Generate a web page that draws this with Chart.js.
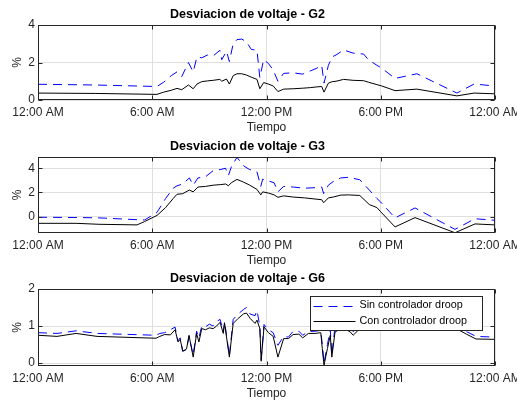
<!DOCTYPE html>
<html>
<head>
<meta charset="utf-8">
<script src="https://cdn.jsdelivr.net/npm/chart.js@4.4.0/dist/chart.umd.min.js"></script>
<style>
html, body { margin: 0; padding: 0; background: #fff; }
#wrap { position: relative; width: 517px; height: 403px; overflow: hidden; }
#wrap canvas { position: absolute; left: 0; }
</style>
</head>
<body>
<div id="wrap">
  <canvas id="g2Chart" width="560" height="135" style="top:0px"></canvas>
  <canvas id="g3Chart" width="560" height="134" style="top:134px"></canvas>
  <canvas id="g6Chart" width="560" height="133" style="top:268px"></canvas>
</div>
<script>
// tick labels / series names
const xTickHours = [0, 6, 12, 18, 24];
const xTickLabels = ['12:00 AM', '6:00 AM', '12:00 PM', '6:00 PM', '12:00 AM'];
const seriesNames = ['Sin controlador droop', 'Con controlador droop'];

// G2 (hours of day, % deviation)
const g2Hours = [0, 3, 6.25, 6.6, 7.0, 7.3, 7.55, 7.9, 8.15, 8.35, 8.6, 8.9, 9.2, 9.55, 9.65, 9.9, 10.05, 10.25, 10.45, 10.7,
  10.95, 11.2, 11.5, 11.65, 11.85, 12.1, 12.35, 12.6, 12.9, 13.4, 13.9, 14.3, 14.65, 14.9, 15.02, 15.25, 15.45, 15.65, 16.05,
  16.55, 17.1, 17.35, 17.8, 18.05, 18.75, 19.9, 22.0, 22.9, 24];
const g2Sin = [0.84, 0.8, 0.72, 0.95, 1.3, 1.5, 1.25, 2.0, 1.5, 2.3, 2.25, 2.4, 2.35, 2.65, 2.15, 2.6, 2.05, 3.0, 3.22, 3.25,
  3.1, 2.7, 2.65, 1.2, 2.15, 1.95, 1.6, 1.0, 1.42, 1.45, 1.38, 1.55, 1.7, 1.85, 0.9, 1.85, 2.3, 2.4, 2.67,
  2.5, 2.45, 2.15, 1.85, 1.7, 1.15, 1.4, 0.37, 0.85, 0.75];
const g2Con = [0.37, 0.35, 0.3, 0.42, 0.52, 0.62, 0.55, 0.8, 0.6, 0.85, 0.98, 1.02, 1.05, 1.1, 1.0, 1.12, 0.85, 1.3, 1.4, 1.4,
  1.33, 1.22, 1.1, 0.6, 0.93, 0.85, 0.75, 0.45, 0.58, 0.6, 0.63, 0.66, 0.7, 0.72, 0.42, 0.9, 0.98, 1.0, 1.1,
  1.05, 1.03, 0.95, 0.82, 0.75, 0.5, 0.58, 0.22, 0.37, 0.33];

// G3
const g3Hours = [0, 2, 3.2, 5.2, 5.6, 6.25, 6.7, 7.1, 7.3, 7.6, 7.95, 8.15, 8.4, 8.8, 9.2, 9.6, 9.85, 10.0, 10.15, 10.45,
  10.8, 11.1, 11.5, 11.7, 11.8, 12.1, 12.4, 12.6, 12.9, 13.4, 14.0, 14.6, 14.9, 15.0, 15.25, 15.5, 15.9, 16.3, 16.9,
  17.4, 17.8, 18.0, 18.75, 19.8, 21.9, 22.95, 24];
const g3Sin = [-0.05, -0.07, -0.1, -0.25, -0.27, 0.35, 1.5, 2.35, 2.55, 2.7, 3.2, 2.6, 3.2, 3.3, 3.8, 3.9, 4.0, 3.4, 4.1, 4.9,
  4.2, 3.9, 3.7, 2.5, 3.1, 2.95, 2.8, 2.05, 2.5, 2.45, 2.35, 2.4, 2.45, 1.9, 2.6, 2.9, 3.2, 3.25, 3.05,
  2.2, 1.5, 1.2, -0.1, 0.72, -1.05, -0.17, -0.3];
const g3Con = [-0.55, -0.55, -0.63, -0.68, -0.4, 0.1, 0.75, 1.5, 1.85, 1.9, 2.2, 2.05, 2.45, 2.5, 2.6, 2.65, 2.7, 2.55, 2.8, 3.08,
  2.85, 2.62, 2.25, 1.8, 2.05, 1.95, 1.8, 1.6, 1.72, 1.62, 1.55, 1.45, 1.4, 1.15, 1.55, 1.62, 1.78, 1.8, 1.75,
  1.0, 0.75, 0.4, -0.85, -0.08, -1.33, -0.6, -0.68];

// G6
const g6Hours = [0, 1, 2, 3.1, 6.2, 6.4, 6.65, 6.95, 7.2, 7.35, 7.47, 7.6, 7.8, 7.93, 8.15, 8.33, 8.45, 8.6, 8.8, 9.0,
  9.2, 9.38, 9.56, 9.73, 9.8, 10.05, 10.25, 10.5, 10.8, 10.95, 11.15, 11.4, 11.5, 11.65, 11.72, 11.87, 12.1, 12.35, 12.6, 12.9,
  13.15, 13.4, 13.7, 13.9, 14.2, 14.55, 14.85, 14.93, 15.02, 15.2, 15.35, 15.43, 15.6, 16.0, 16.4, 16.55, 17.0, 18.0, 19.0, 20.0,
  21.0, 22.0, 22.5, 23.0, 24];
const g6Sin = [0.82, 0.8, 0.87, 0.8, 0.75, 0.8, 0.82, 0.9, 0.97, 0.6, 0.68, 0.32, 0.36, 0.72, 0.22, 0.86, 0.68, 1.0, 0.98, 1.05,
  1.0, 1.12, 1.18, 0.86, 1.12, 0.2, 1.18, 1.32, 1.45, 1.5, 1.32, 1.28, 1.42, 1.0, 0.1, 1.04, 0.9, 0.82, 0.48, 0.72,
  0.7, 0.86, 0.86, 0.75, 0.85, 0.86, 0.88, 0.5, 0.0, 0.5, 0.9, 0.22, 1.0, 1.05, 0.95, 0.85, 1.05, 1.08, 1.05, 1.08,
  1.05, 1.0, 0.85, 0.72, 0.7];
const g6Con = [0.75, 0.72, 0.8, 0.72, 0.67, 0.72, 0.77, 0.76, 0.9, 0.57, 0.64, 0.32, 0.38, 0.75, 0.16, 0.8, 0.57, 0.93, 0.9, 0.95,
  0.93, 1.0, 1.1, 0.8, 1.07, 0.16, 1.07, 1.2, 1.33, 1.35, 1.2, 1.07, 1.16, 0.93, 0.05, 0.98, 0.82, 0.72, 0.16, 0.66,
  0.66, 0.77, 0.78, 0.68, 0.8, 0.8, 0.82, 0.39, -0.06, 0.39, 0.75, 0.16, 0.84, 0.95, 0.84, 0.75, 0.98, 1.0, 0.98, 1.0,
  0.98, 0.92, 0.78, 0.65, 0.64];

Chart.defaults.font.family = '"Liberation Sans", Arial, Helvetica, sans-serif';
Chart.defaults.color = '#262626';

function toPoints(hours, vals) {
  return hours.map((h, i) => ({ x: h, y: vals[i] }));
}

// matlab style box + inward ticks
const framePlugin = {
  id: 'frame',
  afterDatasetsDraw(chart) {
    const { ctx, chartArea: a, scales } = chart;
    const L = Math.round(a.left) + 0.5, R = Math.round(a.right) - 0.5;
    const T = Math.round(a.top) + 0.5, B = Math.round(a.bottom) - 0.5;
    ctx.save();
    ctx.strokeStyle = '#262626';
    ctx.lineWidth = 1;
    ctx.strokeRect(L, T, R - L, B - T);
    ctx.beginPath();
    scales.x.ticks.forEach(t => {
      const px = Math.round(scales.x.getPixelForValue(t.value)) + 0.5;
      ctx.moveTo(px, B); ctx.lineTo(px, B - 4);
      ctx.moveTo(px, T); ctx.lineTo(px, T + 4);
    });
    scales.y.ticks.forEach(t => {
      const py = Math.round(scales.y.getPixelForValue(t.value)) + 0.5;
      ctx.moveTo(L, py); ctx.lineTo(L + 4, py);
      ctx.moveTo(R, py); ctx.lineTo(R - 4, py);
    });
    ctx.stroke();
    ctx.restore();
  }
};

// legend drawn inside the plot area (top right)
const legendPlugin = {
  id: 'panelLegend',
  afterDraw(chart, args, opts) {
    if (!opts.show) return;
    const { ctx, chartArea: a } = chart;
    const w = 172, h = 34;
    const x0 = Math.round(a.right - 13 - w) + 0.5;
    const y0 = Math.round(a.top + 7) + 0.5;
    ctx.save();
    ctx.fillStyle = '#fff';
    ctx.fillRect(x0, y0, w, h);
    ctx.strokeStyle = '#262626';
    ctx.lineWidth = 1;
    ctx.strokeRect(x0, y0, w, h);
    ctx.font = '10.8px "Liberation Sans", Arial, sans-serif';
    ctx.textBaseline = 'middle';
    ctx.fillStyle = '#000';
    chart.data.datasets.forEach((ds, i) => {
      const y = y0 + 9 + i * 15.7;
      ctx.strokeStyle = ds.borderColor;
      ctx.setLineDash(ds.borderDash || []);
      ctx.beginPath();
      ctx.moveTo(x0 + 3, Math.round(y) + 0.5);
      ctx.lineTo(x0 + 45, Math.round(y) + 0.5);
      ctx.stroke();
      ctx.setLineDash([]);
      ctx.fillText(ds.label, x0 + 49, y);
    });
    ctx.restore();
  }
};

function makePanel(canvasId, title, hours, sin, con, yMin, yMax, yTicks, titleTop, showLegend) {
  return new Chart(document.getElementById(canvasId), {
    type: 'line',
    data: {
      datasets: [
        { label: seriesNames[0], data: toPoints(hours, sin), borderColor: '#0000ff', borderWidth: 1,
          borderDash: [9, 6], pointRadius: 0, fill: false, order: 1 },
        { label: seriesNames[1], data: toPoints(hours, con), borderColor: '#000000', borderWidth: 1,
          pointRadius: 0, fill: false, order: 0 }
      ]
    },
    options: {
      responsive: false,
      animation: false,
      devicePixelRatio: 1,
      layout: { padding: { left: 0, right: 65, top: 0, bottom: 0 } },
      plugins: {
        legend: { display: false },
        tooltip: { enabled: false },
        title: { display: true, text: title, color: '#000', font: { size: 12.5, weight: 'bold' },
          padding: { top: titleTop, bottom: 2.5 } },
        panelLegend: { show: showLegend }
      },
      scales: {
        x: {
          type: 'linear', min: 0, max: 24,
          border: { display: false },
          grid: { color: '#dfdfdf', drawTicks: false },
          ticks: { stepSize: 6, autoSkip: false, maxRotation: 0, padding: 5, font: { size: 12 },
            callback: v => xTickLabels[xTickHours.indexOf(v)] },
          title: { display: true, text: 'Tiempo', font: { size: 12 }, padding: 0 },
          afterFit: s => { s.height = 35; }
        },
        y: {
          min: yMin, max: yMax,
          border: { display: false },
          grid: { color: '#dfdfdf', drawTicks: false },
          ticks: { padding: 3, font: { size: 12 } },
          afterBuildTicks: s => { s.ticks = yTicks.map(v => ({ value: v })); },
          title: { display: true, text: '%', font: { size: 12 }, padding: { top: 10, bottom: 0 } },
          afterFit: s => { s.width = 38; }
        }
      }
    },
    plugins: [framePlugin, legendPlugin]
  });
}

makePanel('g2Chart', 'Desviacion de voltaje - G2', g2Hours, g2Sin, g2Con, 0, 4, [0, 2, 4], 7.5, false);
makePanel('g3Chart', 'Desviacion de voltaje - G3', g3Hours, g3Sin, g3Con, -1.35, 4.93, [0, 2, 4], 5.5, false);
makePanel('g6Chart', 'Desviacion de voltaje - G6', g6Hours, g6Sin, g6Con, -0.08, 2, [0, 1, 2], 3.5, true);
</script>
</body>
</html>
